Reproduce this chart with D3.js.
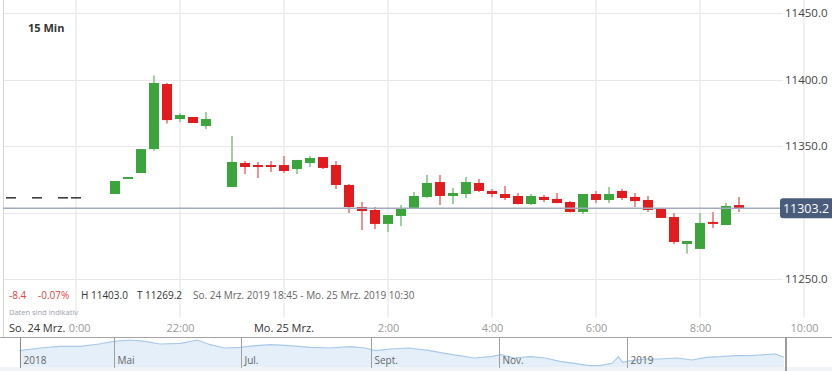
<!DOCTYPE html>
<html>
<head>
<meta charset="utf-8">
<script src="https://cdn.jsdelivr.net/npm/d3@7"></script>
<style>
  body { margin: 0; background: #fff; }
  svg { display: block; font-family: "Open Sans", sans-serif; }
</style>
</head>
<body>
<div id="chart"></div>
<script>
// 15-minute candles, So. 24 Mrz. 18:45 - Mo. 25 Mrz. 08:45
const times = [
  "2019-03-24 18:45", "2019-03-24 19:15", "2019-03-24 19:45", "2019-03-24 20:00",
  "2019-03-24 20:45", "2019-03-24 21:00", "2019-03-24 21:15", "2019-03-24 21:30",
  "2019-03-24 21:45", "2019-03-24 22:00", "2019-03-24 22:15", "2019-03-24 22:30",
  "2019-03-24 23:00", "2019-03-24 23:15", "2019-03-24 23:30", "2019-03-24 23:45",
  "2019-03-25 00:00", "2019-03-25 00:15", "2019-03-25 00:30", "2019-03-25 00:45",
  "2019-03-25 01:00", "2019-03-25 01:15", "2019-03-25 01:30", "2019-03-25 01:45",
  "2019-03-25 02:00", "2019-03-25 02:15", "2019-03-25 02:30", "2019-03-25 02:45",
  "2019-03-25 03:00", "2019-03-25 03:15", "2019-03-25 03:30", "2019-03-25 03:45",
  "2019-03-25 04:00", "2019-03-25 04:15", "2019-03-25 04:30", "2019-03-25 04:45",
  "2019-03-25 05:00", "2019-03-25 05:15", "2019-03-25 05:30", "2019-03-25 05:45",
  "2019-03-25 06:00", "2019-03-25 06:15", "2019-03-25 06:30", "2019-03-25 06:45",
  "2019-03-25 07:00", "2019-03-25 07:15", "2019-03-25 07:30", "2019-03-25 07:45",
  "2019-03-25 08:00", "2019-03-25 08:15", "2019-03-25 08:30", "2019-03-25 08:45"
];
const opens = [
  11311.6, 11311.6, 11311.6, 11311.6, 11313.9, 11325.2, 11329.7, 11347.7,
  11396.6, 11370.3, 11371.8, 11365.0, 11319.2, 11337.2, 11335.7, 11335.7,
  11335.7, 11332.7, 11337.2, 11341.7, 11335.7, 11320.7, 11304.1, 11301.9,
  11291.4, 11297.4, 11303.4, 11311.7, 11322.9, 11312.4, 11313.9, 11322.2,
  11316.2, 11313.9, 11312.4, 11306.4, 11311.7, 11310.2, 11307.9, 11300.4,
  11313.9, 11309.4, 11316.2, 11311.7, 11309.4, 11303.4, 11296.6, 11276.3,
  11272.6, 11292.9, 11290.6, 11305.6
];
const highs = [
  11311.6, 11311.6, 11311.6, 11311.6, 11323.7, 11326.7, 11347.7, 11403.0,
  11397.4, 11374.8, 11371.8, 11375.6, 11357.5, 11338.7, 11338.0, 11338.7,
  11342.5, 11339.5, 11342.5, 11341.7, 11338.7, 11321.4, 11307.9, 11304.1,
  11298.1, 11305.6, 11315.4, 11328.2, 11328.2, 11318.4, 11326.7, 11325.2,
  11317.7, 11319.9, 11314.7, 11313.9, 11313.2, 11314.7, 11308.6, 11314.0,
  11316.2, 11319.2, 11317.7, 11314.7, 11312.4, 11303.4, 11299.6, 11278.6,
  11299.6, 11300.4, 11307.1, 11311.7
];
const lows = [
  11311.6, 11311.6, 11311.6, 11311.6, 11313.9, 11325.2, 11329.7, 11346.5,
  11367.0, 11368.0, 11367.3, 11362.8, 11319.2, 11329.0, 11326.0, 11330.5,
  11329.7, 11329.0, 11334.2, 11332.7, 11317.7, 11299.6, 11286.8, 11287.6,
  11285.3, 11289.8, 11303.0, 11310.9, 11305.6, 11306.4, 11310.9, 11315.4,
  11311.7, 11309.4, 11306.0, 11305.6, 11307.9, 11307.0, 11300.0, 11298.9,
  11307.1, 11307.1, 11309.4, 11304.1, 11300.4, 11295.9, 11276.3, 11269.2,
  11272.6, 11288.3, 11290.6, 11300.4
];
const closes = [
  11311.6, 11311.6, 11311.6, 11311.6, 11323.7, 11326.7, 11347.7, 11397.4,
  11369.5, 11373.3, 11367.3, 11370.3, 11338.0, 11334.2, 11334.2, 11334.2,
  11331.2, 11339.5, 11341.0, 11333.5, 11320.7, 11304.1, 11301.1, 11291.4,
  11298.1, 11303.4, 11312.4, 11322.2, 11312.4, 11314.7, 11322.9, 11316.2,
  11313.9, 11310.9, 11306.4, 11312.4, 11309.4, 11307.1, 11300.4, 11313.9,
  11309.4, 11313.9, 11310.9, 11308.6, 11301.9, 11295.9, 11277.8, 11278.6,
  11292.1, 11291.4, 11304.9, 11303.2
];

const yTicks = [11250, 11300, 11350, 11400, 11450];
const xTicks = [
  "2019-03-24 20:00", "2019-03-24 22:00", "2019-03-25 00:00", "2019-03-25 02:00",
  "2019-03-25 04:00", "2019-03-25 06:00", "2019-03-25 08:00", "2019-03-25 10:00"
];
const lastPrice = 11303.2;
const firstDayLabel = "So. 24 Mrz.";
const secondDayLabel = "Mo. 25 Mrz.";
const infoTexts = ["-8.4", "-0.07%", "H 11403.0", "T 11269.2",
  "So. 24 Mrz. 2019 18:45 - Mo. 25 Mrz. 2019 10:30"];

// navigator (one year)
const navDates = [
  "2018-03-17", "2018-03-27", "2018-04-05", "2018-04-15", "2018-04-24", "2018-05-01",
  "2018-05-09", "2018-05-16", "2018-05-23", "2018-06-02", "2018-06-10", "2018-06-16",
  "2018-06-23", "2018-06-30", "2018-07-08", "2018-07-15", "2018-07-24", "2018-08-03",
  "2018-08-12", "2018-08-22", "2018-08-29", "2018-09-03", "2018-09-10", "2018-09-19",
  "2018-09-29", "2018-10-06", "2018-10-13", "2018-10-20", "2018-10-28", "2018-11-02",
  "2018-11-08", "2018-11-16", "2018-11-23", "2018-11-30", "2018-12-07", "2018-12-14",
  "2018-12-19", "2018-12-25", "2018-12-28", "2018-12-30", "2019-01-03", "2019-01-10",
  "2019-01-17", "2019-01-25", "2019-02-01", "2019-02-08", "2019-02-15", "2019-02-22",
  "2019-03-01", "2019-03-08", "2019-03-13", "2019-03-17"
];
const navValues = [
  11930, 12200, 12370, 12370, 12600, 12870, 13000, 12870, 12600, 12670, 13000, 12530,
  12200, 12270, 12430, 12530, 12430, 12270, 12200, 12330, 12200, 11930, 12100, 12200,
  11930, 11670, 11430, 11200, 11330, 11530, 11200, 11330, 11200, 10870, 10670, 10430,
  10430, 10670, 11330, 10770, 10930, 11100, 11100, 11200, 11000, 11270, 11330, 11430,
  11430, 11530, 11600, 11270
];
const navTickDates = ["2018-03-17", "2018-05-01", "2018-07-01", "2018-09-01", "2018-11-01", "2019-01-01"];
const navTickLabels = ["2018", "Mai", "Jul.", "Sept.", "Nov.", "2019"];

const width = 832, height = 371;
const parseTime = d3.timeParse("%Y-%m-%d %H:%M");
const parseDay = d3.timeParse("%Y-%m-%d");

const svg = d3.select("#chart")
  .append("svg")
  .attr("width", width)
  .attr("height", height);

const x = d3.scaleTime()
  .domain([parseTime("2019-03-24 20:00"), parseTime("2019-03-25 10:00")])
  .range([76, 804]);
const y = d3.scaleLinear().domain([11250, 11450]).range([279, 13]);

// grid
svg.append("g").selectAll("line")
  .data(xTicks)
  .join("line")
  .attr("x1", d => x(parseTime(d)))
  .attr("x2", d => x(parseTime(d)))
  .attr("y1", 0)
  .attr("y2", 318)
  .attr("stroke", "#f1f1f1")
  .attr("stroke-width", 2);

svg.append("g").selectAll("line")
  .data(yTicks)
  .join("line")
  .attr("x1", 3)
  .attr("x2", 783)
  .attr("y1", d => Math.round(y(d)) + 0.5)
  .attr("y2", d => Math.round(y(d)) + 0.5)
  .attr("stroke", "#e8e8e8");

svg.append("line")
  .attr("x1", 3.5).attr("x2", 3.5)
  .attr("y1", 0).attr("y2", 338)
  .attr("stroke", "#d4d4d4");

// candles
const candles = times.map((t, i) => ({
  t: parseTime(t), o: opens[i], h: highs[i], l: lows[i], c: closes[i]
}));
const upBody = "#3ba53b", downBody = "#e21c1e";
const upWick = "#9dd29d", downWick = "#f09092";

const cg = svg.append("g");
cg.selectAll("line.wick")
  .data(candles.filter(d => d.h > d.l))
  .join("line")
  .attr("class", "wick")
  .attr("x1", d => x(d.t))
  .attr("x2", d => x(d.t))
  .attr("y1", d => y(d.h))
  .attr("y2", d => y(d.l))
  .attr("stroke", d => d.c >= d.o ? upWick : downWick)
  .attr("stroke-width", 2);

cg.selectAll("rect.body")
  .data(candles)
  .join("rect")
  .attr("class", "body")
  .attr("x", d => x(d.t) - 5)
  .attr("width", 10)
  .attr("y", d => y(Math.max(d.o, d.c)))
  .attr("height", d => Math.max(1.5, y(Math.min(d.o, d.c)) - y(Math.max(d.o, d.c))))
  .attr("fill", d => d.h === d.l ? "#333" : (d.c >= d.o ? upBody : downBody));

// last price line and label
svg.append("line")
  .attr("x1", 3).attr("x2", 780)
  .attr("y1", y(lastPrice)).attr("y2", y(lastPrice))
  .attr("stroke", "#a2abbd")
  .attr("stroke-width", 1.5);

// y axis labels (the one under the price box is hidden)
const yAxis = d3.axisRight(y)
  .tickValues(yTicks.filter(d => Math.abs(y(d) - y(lastPrice)) > 12))
  .tickSize(0)
  .tickPadding(2)
  .tickFormat(d3.format(".1f"));
const yg = svg.append("g")
  .attr("transform", "translate(783,0)")
  .call(yAxis);
yg.select(".domain").remove();
yg.selectAll("text")
  .attr("fill", "#444")
  .style("font-size", "11.5px")
  .style("font-family", "'Open Sans', sans-serif");

svg.append("rect")
  .attr("x", 780).attr("y", y(lastPrice) - 10)
  .attr("width", 56).attr("height", 20)
  .attr("rx", 3)
  .attr("fill", "#4a5c7c");
svg.append("text")
  .attr("x", 806).attr("y", y(lastPrice) + 4.5)
  .attr("text-anchor", "middle")
  .attr("fill", "#fff")
  .style("font-size", "12.5px")
  .text(d3.format(".1f")(lastPrice));

// x axis
const xAxis = d3.axisBottom(x)
  .tickValues(xTicks.map(parseTime))
  .tickSize(0)
  .tickPadding(6)
  .tickFormat(d => d.getHours() === 0 ? "" : d3.timeFormat("%-H:%M")(d));
const xg = svg.append("g")
  .attr("transform", "translate(0,318)")
  .call(xAxis);
xg.select(".domain").remove();
xg.selectAll("text")
  .attr("fill", "#9a9a9a")
  .style("font-size", "11px")
  .style("font-family", "'Open Sans', sans-serif");

svg.append("rect")
  .attr("x", 4).attr("y", 320)
  .attr("width", 64).attr("height", 15)
  .attr("fill", "#fff");
svg.append("text")
  .attr("x", 9).attr("y", 332)
  .attr("fill", "#333")
  .style("font-size", "11px")
  .text(firstDayLabel);
svg.append("text")
  .attr("x", x(parseTime("2019-03-25 00:00")))
  .attr("y", 332)
  .attr("text-anchor", "middle")
  .attr("fill", "#333")
  .style("font-size", "11px")
  .text(secondDayLabel);

// titles and info row
svg.append("text")
  .attr("x", 28).attr("y", 32)
  .attr("fill", "#333")
  .style("font-size", "11px")
  .style("font-weight", "bold")
  .text("15 Min");

const infoX = [9, 38, 81, 137, 193];
const infoColor = ["#e04444", "#e04444", "#333", "#333", "#666"];
svg.append("g").selectAll("text")
  .data(infoTexts)
  .join("text")
  .attr("x", (d, i) => infoX[i])
  .attr("y", 299)
  .attr("fill", (d, i) => infoColor[i])
  .style("font-size", "10px")
  .text(d => d);

svg.append("text")
  .attr("x", 9).attr("y", 315)
  .attr("fill", "#9aa3ad")
  .style("font-size", "7.5px")
  .text("Daten sind indikativ");

// navigator
const navX = d3.scaleTime()
  .domain([parseDay("2018-03-17"), parseDay("2019-03-18")])
  .range([19.5, 786]);
const navY = d3.scaleLinear().domain([10200, 13300]).range([368, 337]);
const navData = navDates.map((d, i) => ({ t: parseDay(d), v: navValues[i] }));

svg.append("rect")
  .attr("x", 0).attr("y", 367)
  .attr("width", width).attr("height", 4)
  .attr("fill", "#f1f3f6");

svg.append("path")
  .datum(navData)
  .attr("d", d3.area().x(d => navX(d.t)).y0(367).y1(d => navY(d.v)))
  .attr("fill", "#e5eff9");
svg.append("path")
  .datum(navData)
  .attr("d", d3.line().x(d => navX(d.t)).y(d => navY(d.v)))
  .attr("fill", "none")
  .attr("stroke", "#a8c9e9")
  .attr("stroke-width", 1.2);

svg.append("line")
  .attr("x1", 0).attr("x2", width)
  .attr("y1", 337.5).attr("y2", 337.5)
  .attr("stroke", "#a4a4a4");

const ng = svg.append("g").selectAll("g")
  .data(navTickDates)
  .join("g")
  .attr("transform", d => `translate(${Math.round(navX(parseDay(d))) + 0.5},0)`);
ng.append("line")
  .attr("y1", 337.5).attr("y2", 368)
  .attr("stroke", (d, i) => i === 0 ? "#8a8a8a" : "#a0a0a0");
ng.append("text")
  .attr("x", 3).attr("y", 364)
  .attr("fill", "#666")
  .style("font-size", "10px")
  .text((d, i) => navTickLabels[i]);

svg.append("line")
  .attr("x1", 786).attr("x2", 786)
  .attr("y1", 337).attr("y2", 371)
  .attr("stroke", "#9c9c9c")
  .attr("stroke-width", 2);
</script>
</body>
</html>
